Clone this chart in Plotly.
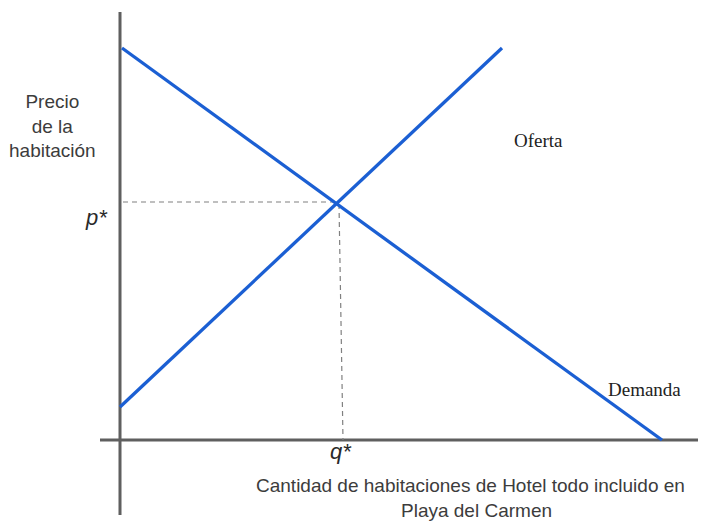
import plotly.graph_objects as go

# Data (model units: origin at axes intersection)
demand_x = [2, 542]
demand_y = [392, 0]
supply_x = [0, 382]
supply_y = [33, 392]
q_star = 219
p_star = 238

axis_color = "#5f5f5f"
line_color = "#1b5fd3"
guide_color = "#808080"

fig = go.Figure()

# axes lines
fig.add_trace(go.Scatter(x=[0, 0], y=[-75, 428], mode="lines",
                         line=dict(color=axis_color, width=3), hoverinfo="skip"))
fig.add_trace(go.Scatter(x=[-20, 580], y=[0, 0], mode="lines",
                         line=dict(color=axis_color, width=3), hoverinfo="skip"))

# dashed guides
fig.add_trace(go.Scatter(x=[3, q_star - 2], y=[p_star, p_star], mode="lines",
                         line=dict(color=guide_color, width=1.2, dash="5px,4px"), hoverinfo="skip"))
fig.add_trace(go.Scatter(x=[q_star, q_star + 4], y=[p_star - 2, 0], mode="lines",
                         line=dict(color=guide_color, width=1.2, dash="5px,4px"), hoverinfo="skip"))

# demand & supply
fig.add_trace(go.Scatter(x=demand_x, y=demand_y, mode="lines",
                         line=dict(color=line_color, width=3.3), hoverinfo="skip"))
fig.add_trace(go.Scatter(x=supply_x, y=supply_y, mode="lines",
                         line=dict(color=line_color, width=3.3), hoverinfo="skip"))

sans = "Liberation Sans, Arial, sans-serif"
serif = "Liberation Serif, Times New Roman, serif"

annotations = [
    dict(x=-68, y=314, text="Precio<br>de la<br>habitación", font=dict(family=sans, size=19, color="#3c3c3c")),
    dict(x=-24, y=223, text="<i>p*</i>", font=dict(family=sans, size=22, color="#2a2a2a")),
    dict(x=q_star + 2, y=-11, text="<i>q*</i>", font=dict(family=sans, size=22, color="#2a2a2a")),
    dict(x=418, y=300, text="Oferta", font=dict(family=serif, size=19, color="#222222")),
    dict(x=524, y=51, text="Demanda", font=dict(family=serif, size=19, color="#222222")),
    dict(x=350, y=-45, text="Cantidad de habitaciones de Hotel todo incluido en",
         font=dict(family=sans, size=19, color="#3c3c3c")),
    dict(x=356, y=-70, text="Playa del Carmen",
         font=dict(family=sans, size=19, color="#3c3c3c")),
]
for a in annotations:
    a.update(xref="x", yref="y", showarrow=False, xanchor="center", yanchor="middle")

# page has an 8px body margin: ranges chosen so the origin lands at (120, 440) on the page
fig.update_layout(
    width=706, height=523,
    margin=dict(l=0, r=0, t=0, b=0),
    paper_bgcolor="white", plot_bgcolor="white",
    showlegend=False,
    annotations=annotations,
    xaxis=dict(range=[-112, 594], visible=False, fixedrange=True),
    yaxis=dict(range=[-91, 432], visible=False, fixedrange=True),
)

fig.write_html("out.html")
